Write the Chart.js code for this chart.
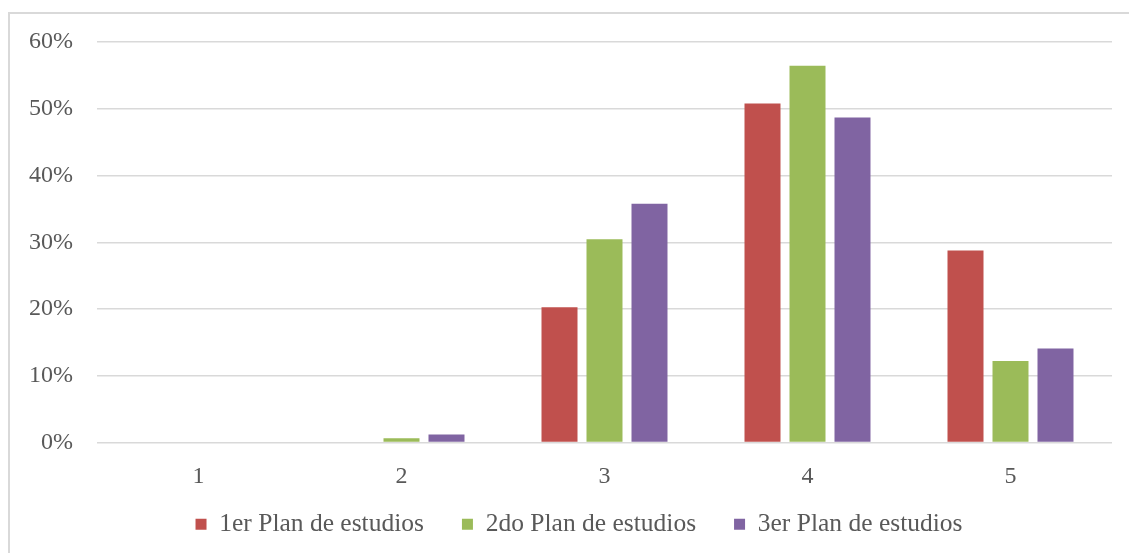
<!DOCTYPE html>
<html>
<head>
<meta charset="utf-8">
<script src="https://cdn.jsdelivr.net/npm/chart.js@4"></script>
<style>
  html, body { margin: 0; padding: 0; background: #fff; overflow: hidden; }
  #frame { position: absolute; left: 8px; top: 12px; width: 1200px; height: 600px;
           border-left: 2px solid #d9d9d9; border-top: 2px solid #d9d9d9; }
  #wrap { position: absolute; left: 0; top: 0; width: 1129px; height: 553px; }
</style>
</head>
<body>
<div id="frame"></div>
<div id="wrap"><canvas id="chart"></canvas></div>
<script>
const categories = ['1', '2', '3', '4', '5']
const plan1 = [0, 0, 20.25, 50.8, 28.75]
const plan2 = [0, 0.65, 30.45, 56.45, 12.2]
const plan3 = [0, 1.2, 35.75, 48.7, 14.1]
const yTicks = [0, 10, 20, 30, 40, 50, 60]

const FONT = "'Liberation Serif', 'DejaVu Serif', serif"
const TXT = '#595959'

const ds = (label, data, color) => ({
  label, data,
  backgroundColor: color,
  borderWidth: 0,
  categoryPercentage: 0.665,
  barPercentage: 0.8,
})

const noClip = s => { s._computeLabelArea = () => undefined }

new Chart(document.getElementById('chart'), {
  type: 'bar',
  data: {
    labels: categories,
    datasets: [
      ds('1er Plan de estudios', plan1, '#C0504D'),
      ds('2do Plan de estudios', plan2, '#9BBB59'),
      ds('3er Plan de estudios', plan3, '#8064A2'),
    ],
  },
  options: {
    responsive: true,
    maintainAspectRatio: false,
    animation: false,
    // left padding pushes the legend's centre to the right, like the original
    layout: { padding: { top: 42, right: 17, bottom: 6, left: 46 } },
    plugins: {
      tooltip: { enabled: false },
      legend: {
        position: 'bottom',
        labels: {
          boxWidth: 11, boxHeight: 11, padding: 38,
          color: TXT, font: { family: FONT, size: 25.5 },
        },
      },
    },
    scales: {
      x: {
        grid: { display: false },
        border: { display: false },
        ticks: { color: TXT, padding: 12, maxRotation: 0, autoSkip: false, font: { family: FONT, size: 24 } },
        afterFit: s => { s.height = 31; noClip(s) },
      },
      y: {
        min: 0, max: 60,
        afterBuildTicks: s => { s.ticks = yTicks.map(v => ({ value: v })) },
        grid: { color: '#d9d9d9', lineWidth: 1.5, drawTicks: false },
        border: { display: false },
        ticks: { color: TXT, padding: 24, font: { family: FONT, size: 24 }, callback: v => v + '%' },
        afterFit: s => { s.width = 51; noClip(s) },
      },
    },
  },
})
</script>
</body>
</html>
